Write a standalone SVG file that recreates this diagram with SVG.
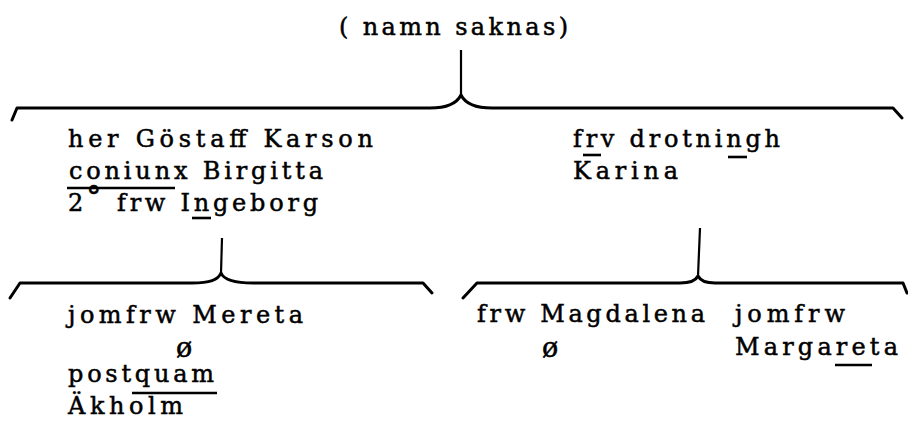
<svg xmlns="http://www.w3.org/2000/svg" width="908" height="421" viewBox="0 0 908 421">
<style>
  text { font-family: "DejaVu Serif", "Liberation Serif", serif; font-size: 24px; fill: #000; stroke: #000; stroke-width: 0.5px; }
  .brace { fill: none; stroke: #000; stroke-width: 3; stroke-linejoin: round; stroke-linecap: round; }
  .stem { fill: none; stroke: #000; stroke-width: 2.2; stroke-linecap: butt; }
  .mark { stroke: #000; stroke-width: 2.6; }
  .sym { font-size: 27px; }
</style>
<rect x="0" y="0" width="908" height="421" fill="#fff"/>
<g id="connectors">
  <path class="stem" d="M461,50 L461,95"/>
  <path class="brace" d="M12,120 L17,108 L430,108 C448,108 457,103 461,95 C465,103 474,108 492,108 L893,108 L902,118"/>
  <path class="stem" d="M222,238 L221,273"/>
  <path class="brace" d="M10,298 L20,283 L192,283 C210,283 218,280 221,273 C224,280 235,283 253,283 L423,283 L432,293"/>
  <path class="stem" d="M700,228 L698,276"/>
  <path class="brace" d="M463,298 L477,283 L680,283 C692,283 696,280 698,276 C700,280 705,283 715,283 L903,283 L907,293"/>
</g>
<g id="node-parent">
  <text x="339" y="35" textLength="229" lengthAdjust="spacing">( namn saknas)</text>
</g>
<g id="node-gostaff">
  <text x="68" y="147" textLength="305" lengthAdjust="spacing">her Göstaff Karson</text>
  <text x="69" y="179" textLength="254" lengthAdjust="spacing">coniunx Birgitta</text>
  <line class="mark" x1="67" y1="188" x2="175" y2="188" stroke-width="3"/>
  <text x="68" y="211">2<tspan dx="3" dy="-4" font-size="30px">°</tspan></text>
  <text x="117" y="211" textLength="201" lengthAdjust="spacing">frw Ingeborg</text>
  <line class="mark" x1="192" y1="218" x2="211" y2="218"/>
</g>
<g id="node-karina">
  <text x="573" y="147" textLength="207" lengthAdjust="spacing">frv drotningh</text>
  <line class="mark" x1="728" y1="157" x2="747" y2="157"/>
  <line class="mark" x1="583" y1="155" x2="601" y2="155"/>
  <text x="573" y="179" textLength="105" lengthAdjust="spacing">Karina</text>
</g>
<g id="node-mereta">
  <text x="68" y="323" textLength="235" lengthAdjust="spacing">jomfrw Mereta</text>
  <text class="sym" x="176" y="357">ø</text>
  <text x="68" y="382" textLength="146" lengthAdjust="spacing">postquam</text>
  <line class="mark" x1="132" y1="393" x2="217" y2="393"/>
  <text x="68" y="414" textLength="115" lengthAdjust="spacing">Äkholm</text>
</g>
<g id="node-magdalena">
  <text x="477" y="322" textLength="228" lengthAdjust="spacing">frw Magdalena</text>
  <text class="sym" x="542" y="357">ø</text>
</g>
<g id="node-margareta">
  <text x="735" y="322" textLength="110" lengthAdjust="spacing">jomfrw</text>
  <text x="735" y="355" textLength="163" lengthAdjust="spacing">Margareta</text>
  <line class="mark" x1="835" y1="365" x2="872" y2="365"/>
</g>
</svg>
